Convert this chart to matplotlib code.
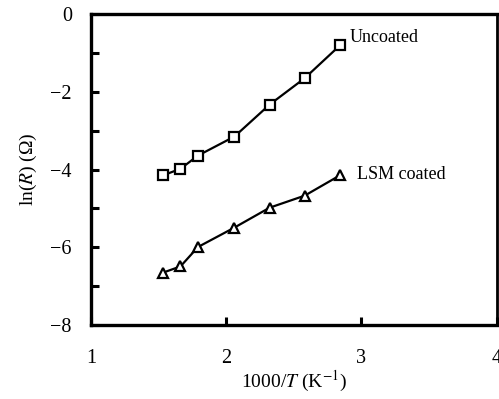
from matplotlib import pyplot as plt
from matplotlib.ticker import MultipleLocator

plt.rcParams['font.family'] = ['Liberation Serif', 'DejaVu Serif']
plt.rcParams['mathtext.fontset'] = 'stix'

# data
inv_temp = [1.53, 1.66, 1.79, 2.06, 2.32, 2.58, 2.84]
uncoated = [-4.15, -3.98, -3.64, -3.15, -2.33, -1.65, -0.81]
lsm_coated = [-6.65, -6.49, -5.99, -5.49, -4.98, -4.67, -4.15]

fig = plt.figure(figsize=(4.99, 3.99), dpi=100)
ax = fig.add_axes([0.183, 0.185, 0.812, 0.78])

ax.plot(inv_temp, uncoated, color='black', lw=1.6, marker='s', ms=7.5,
        mfc='white', mec='black', mew=1.6)
ax.plot(inv_temp, lsm_coated, color='black', lw=1.6, marker='^', ms=7.5,
        mfc='white', mec='black', mew=1.6)

ax.text(2.91, -0.6, "Uncoated", fontsize=13, va='center', ha='left')
ax.text(2.97, -4.12, "LSM coated", fontsize=13, va='center', ha='left')

ax.set_xlim(1, 4)
ax.set_ylim(-8, 0)
ax.xaxis.set_major_locator(MultipleLocator(1))
ax.yaxis.set_minor_locator(MultipleLocator(1))
ax.set_yticks([-8, -6, -4, -2, 0])
ax.set_yticklabels(['\u22128', '\u22126', '\u22124', '\u22122', '0'])

ax.tick_params(which='both', direction='in', labelsize=14.5, width=2.2,
               top=False, right=False)
ax.tick_params(which='major', length=6)
ax.tick_params(which='minor', length=6)
ax.tick_params(axis='x', pad=17)
ax.tick_params(axis='y', pad=14)

for side in ['left', 'bottom', 'top']:
    ax.spines[side].set_linewidth(2.4)
ax.spines['right'].set_linewidth(2.0)

ax.set_xlabel("1000/$T$ (K$^{-1}$)", fontsize=14, labelpad=1)
ax.set_ylabel("ln($R$) (\u03a9)", fontsize=14, labelpad=8)

fig.savefig("out.png", dpi=100)
